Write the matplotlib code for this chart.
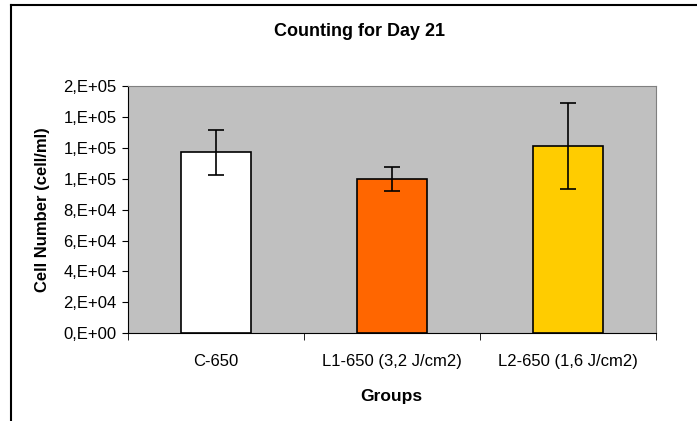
import matplotlib.pyplot as plt
import numpy as np
from matplotlib.lines import Line2D

plt.rcParams['font.family'] = ['Liberation Sans', 'DejaVu Sans']

groups = ["C-650", "L1-650 (3,2 J/cm2)", "L2-650 (1,6 J/cm2)"]
means = [1.17e5, 1.0e5, 1.21e5]
errors = [1.47e4, 7.8e3, 2.77e4]
colors = ["#FFFFFF", "#FF6600", "#FFCC00"]
yticks = [0, 2e4, 4e4, 6e4, 8e4, 1e5, 1.2e5, 1.4e5, 1.6e5]
ytick_labels = ["0,E+00", "2,E+04", "4,E+04", "6,E+04", "8,E+04",
                "1,E+05", "1,E+05", "1,E+05", "2,E+05"]

fig = plt.figure(figsize=(6.97, 4.21), dpi=100)
ax = fig.add_axes([127.7 / 697, 87.7 / 421, 528 / 697, 247.3 / 421])
ax.set_facecolor("#C0C0C0")

x = np.arange(len(groups))
ax.bar(x, means, width=0.4, color=colors, edgecolor="black", linewidth=1.2,
       zorder=2)
ax.errorbar(x, means, yerr=errors, fmt="none", ecolor="black", elinewidth=1.2,
            capsize=6, capthick=1.2, zorder=3)

ax.set_xlim(-0.5, 2.5)
ax.set_ylim(0, 1.6e5)
ax.set_yticks(yticks)
ax.set_yticklabels(ytick_labels, fontsize=12)
ax.set_xticks(x)
ax.set_xticklabels(groups, fontsize=12)
ax.tick_params(axis="x", length=0, pad=15)
ax.tick_params(axis="y", length=4, direction="out", color="black", pad=4)
# category separator ticks
ax.set_xticks([-0.5, 0.5, 1.5, 2.5], minor=True)
ax.tick_params(axis="x", which="minor", length=5, direction="out")

for s in ["top", "right"]:
    ax.spines[s].set_color("#808080")
for s in ["left", "bottom"]:
    ax.spines[s].set_color("black")

ax.set_ylabel("Cell Number (cell/ml)", fontsize=12, fontweight="bold")
ax.yaxis.set_label_coords(-(127.7 - 50.5) / 528, 0.5)
ax.set_xlabel("Groups", fontsize=12.5, fontweight="bold", labelpad=14)
fig.text(360 / 697, 1 - 36 / 421, "Counting for Day 21", ha="center",
         va="baseline", fontsize=13, fontweight="bold")

# chart border
fig.add_artist(Line2D([11 / 697, 11 / 697], [0, 1 - 5 / 421], color="black",
                      linewidth=1.5, transform=fig.transFigure))
fig.add_artist(Line2D([11 / 697, 1], [1 - 5 / 421, 1 - 5 / 421], color="black",
                      linewidth=1.5, transform=fig.transFigure))

fig.savefig("out.png", dpi=100)
